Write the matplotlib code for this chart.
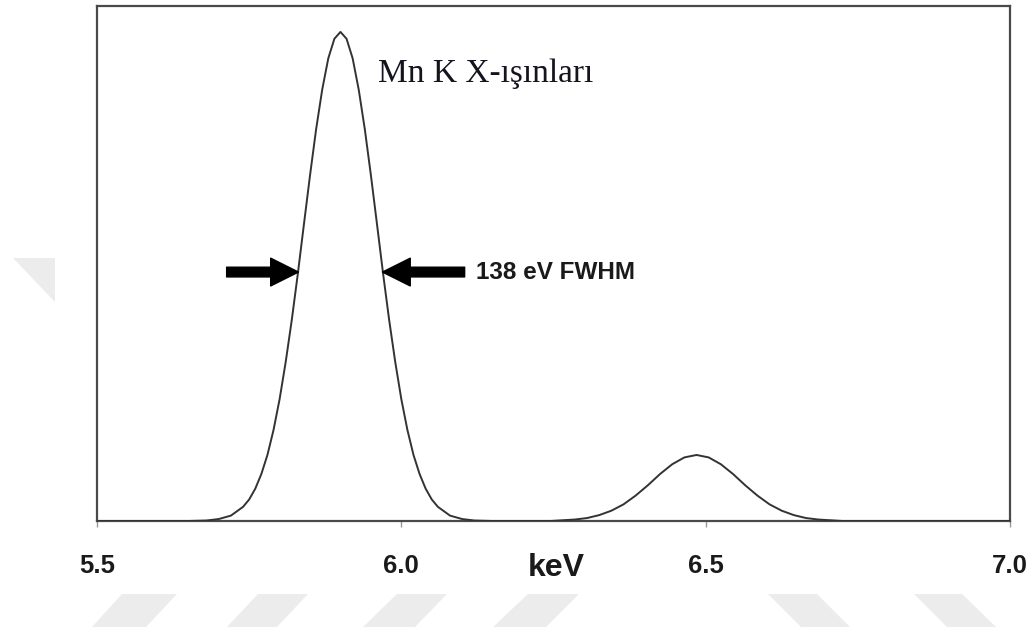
"""
Mn K X-ışınları spektrumu: Kα / Kβ tepeleri ve FWHM okları.
Çıktı: out.png (1029x630)
"""

import matplotlib

matplotlib.use("Agg")
import matplotlib.pyplot as plt
from matplotlib.patches import Polygon

# enerji (keV) ve bağıl sayım (Kα tepe = 100)
energy_kev = [
    5.50, 5.60, 5.65, 5.68, 5.70, 5.72, 5.74, 5.75, 5.76, 5.77, 5.78, 5.79,
    5.80, 5.81, 5.82, 5.83, 5.84, 5.85, 5.86, 5.87, 5.88, 5.89, 5.90, 5.91,
    5.92, 5.93, 5.94, 5.95, 5.96, 5.97, 5.98, 5.99, 6.00, 6.01, 6.02, 6.03,
    6.04, 6.05, 6.06, 6.08, 6.10, 6.12, 6.15, 6.20, 6.245, 6.285, 6.305,
    6.325, 6.345, 6.365, 6.385, 6.405, 6.425, 6.445, 6.465, 6.485, 6.505,
    6.525, 6.545, 6.565, 6.585, 6.605, 6.625, 6.645, 6.665, 6.685, 6.725,
    7.00,
]
counts = [
    0.0, 0.0, 0.0, 0.1, 0.4, 1.1, 2.9, 4.4, 6.6, 9.6, 13.5, 18.6,
    24.9, 32.5, 41.1, 50.6, 60.7, 70.7, 80.1, 88.2, 94.6, 98.6, 100.0, 98.6,
    94.6, 88.2, 80.1, 70.7, 60.7, 50.6, 41.1, 32.5, 24.9, 18.6, 13.5, 9.6,
    6.6, 4.4, 2.9, 1.1, 0.4, 0.1, 0.0, 0.0, 0.0, 0.3, 0.6,
    1.2, 2.1, 3.4, 5.2, 7.3, 9.6, 11.6, 13.0, 13.5, 13.0,
    11.6, 9.6, 7.3, 5.2, 3.4, 2.1, 1.2, 0.6, 0.3, 0.0,
    0.0,
]

X_TICKS = [5.5, 6.0, 6.5, 7.0]
X_TICK_LABELS = ["5.5", "6.0", "6.5", "7.0"]
XLABEL = "keV"
TITLE_TEXT = "Mn K X-ışınları"
FWHM_TEXT = "138 eV FWHM"

PEAK_KEV = 5.90
FWHM_KEV = 0.138
HALF_LEVEL = 50.9

# tuval
FIG_W_PX, FIG_H_PX, DPI = 1029, 630, 100
AX_LEFT_PX, AX_RIGHT_PX = 97, 1010
AX_TOP_PX, AX_BOTTOM_PX = 6, 521

LINE_C = "#333333"
SPINE_C = "#4a4a4a"
MARK_C = "#ececec"

# arka plandaki soluk şekiller (piksel, y aşağı)
BG_SHAPES_PX = [
    [(13, 258), (55, 258), (55, 302)],
    [(122, 594), (177, 594), (146, 627), (92, 627)],
    [(258, 594), (308, 594), (277, 627), (227, 627)],
    [(397, 594), (447, 594), (415, 627), (363, 627)],
    [(528, 594), (579, 594), (546, 627), (493, 627)],
    [(768, 594), (817, 594), (850, 627), (801, 627)],
    [(914, 594), (962, 594), (996, 627), (947, 627)],
]


def _px_to_fig(pts):
    return [(x / FIG_W_PX, 1.0 - y / FIG_H_PX) for x, y in pts]


def main():
    fig = plt.figure(figsize=(FIG_W_PX / DPI, FIG_H_PX / DPI), dpi=DPI)
    fig.patch.set_facecolor("white")

    for shape in BG_SHAPES_PX:
        fig.patches.append(
            Polygon(_px_to_fig(shape), closed=True, transform=fig.transFigure,
                    facecolor=MARK_C, edgecolor="none", zorder=0)
        )

    ax = fig.add_axes([
        AX_LEFT_PX / FIG_W_PX,
        1.0 - AX_BOTTOM_PX / FIG_H_PX,
        (AX_RIGHT_PX - AX_LEFT_PX) / FIG_W_PX,
        (AX_BOTTOM_PX - AX_TOP_PX) / FIG_H_PX,
    ])
    ax.set_facecolor("none")

    ax.plot(energy_kev, counts, color=LINE_C, linewidth=1.4,
            solid_joinstyle="round", zorder=3)

    ax.set_xlim(5.5, 7.0)
    ax.set_ylim(0, 105.3)

    for spine in ax.spines.values():
        spine.set_color(SPINE_C)
        spine.set_linewidth(1.6)

    ax.set_yticks([])
    ax.set_xticks(X_TICKS)
    ax.set_xticklabels(X_TICK_LABELS, fontfamily="Liberation Sans",
                       fontweight="bold", fontsize=18.5, color="#1a1a1a")
    ax.tick_params(axis="x", direction="out", length=4, width=1.0,
                   color="#999999", pad=20)

    ax.text(6.254, -0.107, XLABEL, transform=ax.get_xaxis_transform(),
            ha="center", va="baseline", fontfamily="Liberation Sans",
            fontweight="bold", fontsize=23, color="#1a1a1a")

    ax.text(5.962, 89.8, TITLE_TEXT, ha="left", va="baseline",
            fontfamily="Liberation Serif", fontsize=24, color="#14141e")

    # FWHM okları
    props = dict(facecolor="black", edgecolor="black", width=7.0,
                 headwidth=20.0, headlength=20.0, shrink=0.0)
    left_tip = PEAK_KEV - FWHM_KEV / 2
    right_tip = PEAK_KEV + FWHM_KEV / 2
    ax.annotate("", xy=(left_tip, HALF_LEVEL),
                xytext=(left_tip - 0.118, HALF_LEVEL), arrowprops=props)
    ax.annotate("", xy=(right_tip, HALF_LEVEL),
                xytext=(right_tip + 0.135, HALF_LEVEL), arrowprops=props)

    ax.text(6.122, HALF_LEVEL - 1.5, FWHM_TEXT, ha="left", va="baseline",
            fontfamily="Liberation Sans", fontweight="bold", fontsize=17.5,
            color="#1a1a1a")

    fig.savefig("out.png", dpi=DPI, facecolor="white")
    plt.close(fig)


if __name__ == "__main__":
    main()
